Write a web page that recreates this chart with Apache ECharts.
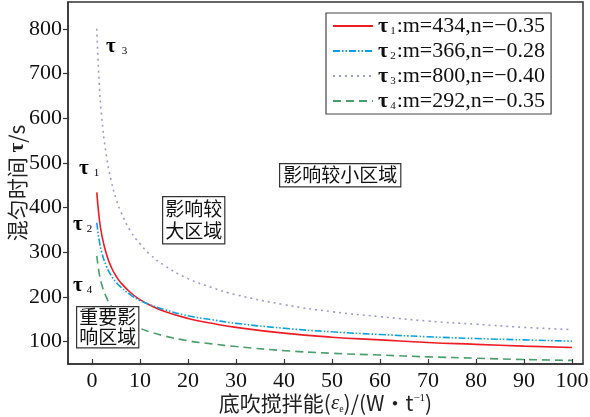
<!DOCTYPE html>
<html>
<head>
<meta charset="utf-8">
<script src="https://cdn.jsdelivr.net/npm/echarts@6/dist/echarts.min.js"></script>
<style>
  html, body { margin: 0; padding: 0; background: #fff; }
  #chart { width: 590px; height: 417px; }
</style>
</head>
<body>
<div id="chart"></div>
<script>
// ε (W/t) sampling points
var eps = [1, 1.5, 2, 3, 4, 5, 6, 8, 10, 12, 15, 20, 25, 30, 40, 50, 60, 70, 80, 90, 100];

// mixing time τ (s)
var tau1 = [434, 377, 341, 296, 267, 247, 232, 210, 194, 182, 168, 152, 141, 132, 119, 110, 104, 98, 94, 90, 87];
var tau2 = [366, 327, 301, 269, 248, 233, 222, 205, 192, 183, 172, 158, 149, 141, 130, 122, 116, 111, 107, 104, 101];
var tau3 = [800, 680, 606, 516, 460, 420, 391, 348, 319, 296, 271, 241, 221, 205, 183, 167, 156, 146, 139, 132, 127];
var tau4 = [292, 253, 229, 199, 180, 166, 156, 141, 130, 122, 113, 102, 95, 89, 80, 74, 70, 66, 63, 60, 58];

var mVals = [434, 366, 800, 292];
var nVals = ['−0.35', '−0.28', '−0.40', '−0.35'];
var seriesNames = ['τ1', 'τ2', 'τ3', 'τ4'];

var xTicks = [0, 10, 20, 30, 40, 50, 60, 70, 80, 90, 100];
var yTicks = [100, 200, 300, 400, 500, 600, 700, 800];

var serif = '"Liberation Serif", "Times New Roman", serif';
var cjk = '"Noto Sans CJK SC", sans-serif';

function pairs(ys) {
    return eps.map(function (x, i) { return [x, ys[i]]; });
}

var styles = [
    { color: '#ee1c25', type: 'solid' },
    { color: '#0aa0e6', type: [7, 2, 1.5, 2, 1.5, 2] },
    { color: '#9c9bd2', type: [2, 4] },
    { color: '#4a9e6c', type: [8, 5] }
];
var allData = [tau1, tau2, tau3, tau4];

var chart = echarts.init(document.getElementById('chart'), null, { renderer: 'canvas' });

var option = {
    animation: false,
    grid: {
        left: 68, right: 7, top: 2, bottom: 53,
        outerBoundsMode: 'none',
        containLabel: false,
        show: true, borderColor: '#333', borderWidth: 1.5
    },
    xAxis: {
        type: 'value',
        min: -5, max: 102.3,
        name: '底吹搅拌能({e|ε}{sub|e})/(W·t{sup|−1})',
        nameLocation: 'middle',
        nameMoveOverlap: false,
        nameGap: 29,
        nameTextStyle: {
            fontFamily: cjk, fontSize: 21, color: '#222',
            rich: {
                e: { fontFamily: serif, fontStyle: 'italic', fontSize: 21, color: '#222' },
                sub: { fontFamily: serif, fontSize: 10, color: '#222', verticalAlign: 'bottom', padding: [10, 0, 0, 0] },
                sup: { fontFamily: serif, fontSize: 11, color: '#222', verticalAlign: 'top', padding: [0, 0, 8, 0] }
            }
        },
        axisLine: { onZero: false, lineStyle: { color: '#333', width: 1.5 } },
        axisTick: { inside: true, length: 5, customValues: xTicks, lineStyle: { color: '#333', width: 1.2 } },
        axisLabel: { customValues: xTicks, fontFamily: serif, fontSize: 22, color: '#111', margin: 6 },
        splitLine: { show: false }
    },
    yAxis: {
        type: 'value',
        min: 50, max: 860,
        name: '混匀时间 {t|τ}/s',
        nameLocation: 'middle',
        nameMoveOverlap: false,
        nameGap: 40,
        nameTextStyle: {
            fontFamily: cjk, fontSize: 21, color: '#222',
            rich: { t: { fontFamily: serif, fontWeight: 'bold', fontSize: 21, color: '#222' } }
        },
        axisLine: { onZero: false, lineStyle: { color: '#333', width: 1.5 } },
        axisTick: { inside: false, length: 5, customValues: yTicks, lineStyle: { color: '#333', width: 1.2 } },
        axisLabel: { customValues: yTicks, fontFamily: serif, fontSize: 22, color: '#111', margin: 6 },
        splitLine: { show: false }
    },
    legend: {
        orient: 'vertical',
        left: 326, top: 13,
        padding: [2, 6, 2, 6],
        itemGap: 3,
        itemWidth: 40, itemHeight: 14,
        borderColor: '#444', borderWidth: 1.2,
        itemStyle: { opacity: 0 },
        data: seriesNames,
        formatter: function (name) {
            var i = seriesNames.indexOf(name);
            return '{t|τ}{s|' + (i + 1) + '}{n|:m=' + mVals[i] + ',n=' + nVals[i] + '}';
        },
        textStyle: {
            fontFamily: serif, fontSize: 22, color: '#111',
            rich: {
                t: { fontFamily: serif, fontWeight: 'bold', fontSize: 22 },
                s: { fontFamily: serif, fontSize: 11, verticalAlign: 'bottom', padding: [10, 1, 0, 2] },
                n: { fontFamily: serif, fontSize: 22 }
            }
        }
    },
    graphic: [
        { type: 'text', left: 79, top: 158, style: { text: '{t|τ}{s|1}', rich: { t: { font: 'bold 21px ' + serif }, s: { font: '11px ' + serif, padding: [10, 0, 0, 5] } } } },
        { type: 'text', left: 73, top: 214, style: { text: '{t|τ}{s|2}', rich: { t: { font: 'bold 21px ' + serif }, s: { font: '11px ' + serif, padding: [10, 0, 0, 4] } } } },
        { type: 'text', left: 106, top: 36, style: { text: '{t|τ}{s|3}', rich: { t: { font: 'bold 21px ' + serif }, s: { font: '11px ' + serif, padding: [10, 0, 0, 6] } } } },
        { type: 'text', left: 73, top: 275, style: { text: '{t|τ}{s|4}', rich: { t: { font: 'bold 21px ' + serif }, s: { font: '11px ' + serif, padding: [10, 0, 0, 4] } } } },
        {
            type: 'text', left: 279, top: 163,
            style: { text: '影响较小区域', font: '19px ' + cjk, fill: '#111', backgroundColor: '#fff', borderColor: '#333', borderWidth: 1.2, padding: [1, 3, 1, 3], lineHeight: 20 }
        },
        {
            type: 'text', left: 162, top: 196,
            style: { text: '影响较\n大区域', font: '19px ' + cjk, fill: '#111', backgroundColor: '#fff', borderColor: '#333', borderWidth: 1.2, padding: [1, 2, 1, 2], lineHeight: 22 }
        },
        {
            type: 'text', left: 76, top: 306, z: 100,
            style: { text: '重要影\n响区域', font: '19px ' + cjk, fill: '#111', backgroundColor: '#fff', borderColor: '#333', borderWidth: 1.2, padding: [0, 2, 0, 2], lineHeight: 20 }
        }
    ],
    series: allData.map(function (d, i) {
        return {
            name: seriesNames[i],
            type: 'line',
            data: pairs(d),
            symbol: 'none',
            smooth: true,
            z: 2,
            lineStyle: { color: styles[i].color, type: styles[i].type, width: 1.6 },
            itemStyle: { color: styles[i].color }
        };
    })
};

chart.setOption(option);
window.addEventListener('resize', chart.resize);
</script>
</body>
</html>
